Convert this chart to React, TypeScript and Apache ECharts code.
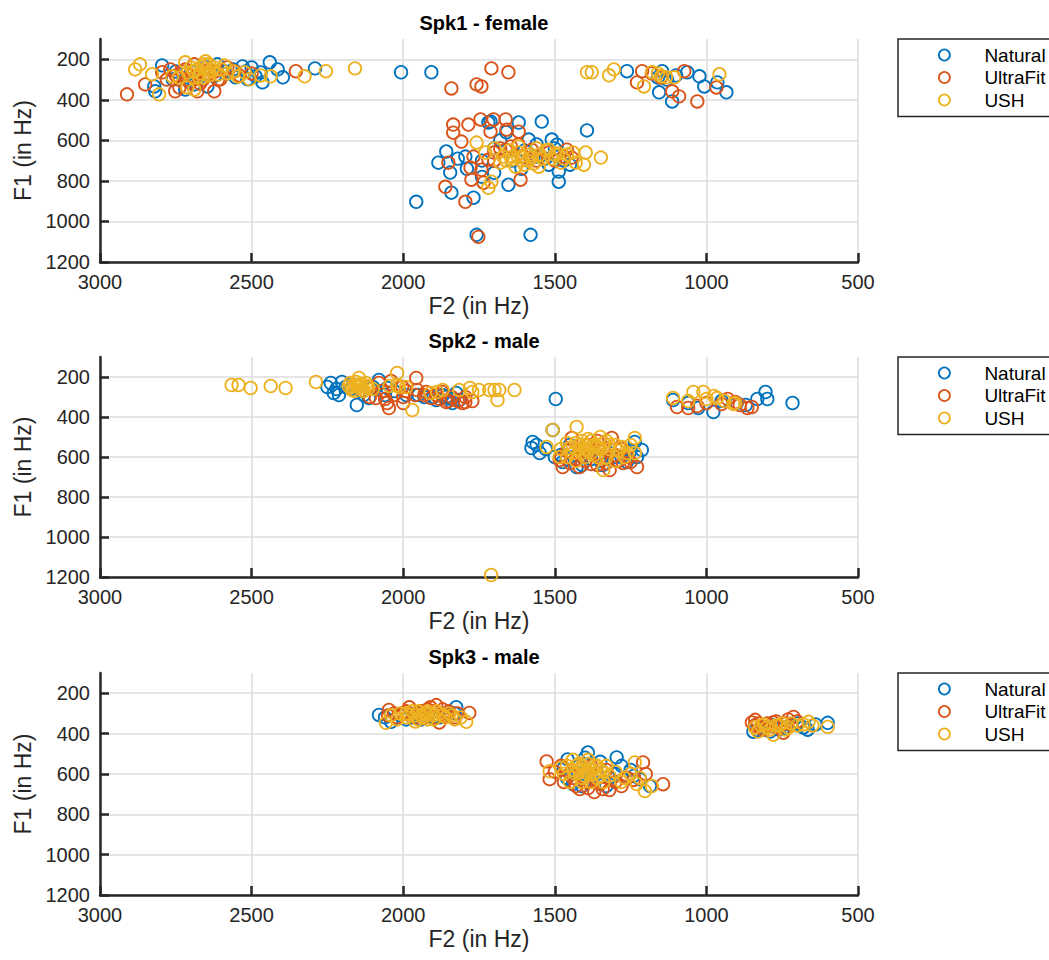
import React, { useEffect, useRef } from 'react';
import * as echarts from 'echarts';

// [F2, F1] pairs, Hz
const spk1Natural = [
  [2795, 230], [2821, 334], [2818, 358], [2719, 349], [2760, 300], [2700, 260], [2650, 240], [2613, 225],
  [2590, 259], [2553, 289], [2530, 235], [2513, 299], [2487, 284], [2440, 215], [2414, 250], [2397, 289],
  [2464, 314], [2291, 245], [2689, 324], [2646, 334], [2580, 270], [2620, 280], [2560, 250], [2007, 264],
  [1907, 264], [2750, 260], [2680, 280], [2520, 260], [2500, 240], [2470, 265],
  [1262, 259], [1146, 259], [1156, 363], [1113, 408], [1063, 264], [1023, 284], [1007, 334], [964, 314],
  [934, 363], [1130, 300], [1100, 280], [1160, 290],
  [1957, 903], [1758, 1066], [1580, 1066], [1858, 655], [1884, 710], [1845, 759], [1841, 858], [1768, 883],
  [1719, 512], [1619, 512], [1543, 507], [1394, 551], [1586, 596], [1510, 596], [1493, 621], [1487, 754],
  [1487, 804], [1653, 819], [1795, 680], [1820, 690], [1790, 740], [1740, 700], [1700, 640], [1680, 600],
  [1660, 560], [1640, 700], [1600, 650], [1560, 680], [1530, 690], [1500, 640], [1470, 700], [1450, 720],
  [1520, 720], [1700, 760], [1740, 780], [1610, 740], [1560, 620], [1712, 507],
];
const spk1UltraFit = [
  [2911, 373], [2851, 324], [2795, 264], [2738, 289], [2752, 358], [2705, 314], [2689, 225], [2646, 274],
  [2603, 299], [2556, 259], [2354, 259], [2719, 250], [2768, 250], [2738, 340], [2623, 358], [2679, 358],
  [2660, 300], [2700, 280], [2780, 300], [2620, 260], [2580, 240], [2730, 260], [2710, 300], [2690, 290],
  [2750, 280], [2670, 320], [2640, 250], [2610, 300], [2540, 280], [2500, 270],
  [1841, 344], [1758, 324], [1742, 334], [1709, 245], [1653, 264],
  [1212, 259], [1229, 314], [1113, 358], [1090, 383], [1073, 259], [1030, 408], [967, 339], [1150, 290],
  [1180, 270],
  [1835, 522], [1835, 562], [1785, 522], [1808, 606], [1745, 497], [1702, 497], [1662, 497], [1659, 547],
  [1712, 557], [1619, 557], [1851, 710], [1778, 735], [1775, 794], [1861, 829], [1613, 794], [1719, 695],
  [1742, 745], [1662, 646], [1645, 630], [1576, 646], [1460, 646], [1444, 685], [1795, 903], [1752, 1076],
  [1735, 809], [1768, 680], [1700, 660], [1600, 680], [1560, 700], [1520, 660], [1700, 700], [1680, 640],
  [1620, 620], [1580, 690], [1500, 700], [1470, 680],
];
const spk1USH = [
  [2884, 250], [2868, 225], [2805, 373], [2828, 274], [2762, 284], [2719, 215], [2689, 349], [2652, 210],
  [2650, 245], [2630, 255], [2670, 270], [2610, 275], [2690, 260], [2640, 225], [2600, 250], [2660, 290],
  [2560, 260], [2523, 264], [2507, 299], [2437, 284], [2325, 284], [2255, 259], [2159, 245], [2712, 339],
  [2740, 290], [2590, 230], [2680, 250], [2665, 235], [2645, 265], [2700, 240], [2675, 285], [2625, 240],
  [2710, 265], [2655, 225], [2640, 280], [2580, 270], [2545, 285], [2470, 280],
  [1394, 264], [1378, 264], [1321, 279], [1305, 250], [1206, 334], [1179, 264], [1149, 284], [1133, 289],
  [1106, 289], [957, 274], [1160, 270],
  [1758, 611], [1729, 660], [1699, 640], [1709, 804], [1719, 834], [1642, 695], [1609, 680], [1576, 685],
  [1553, 730], [1520, 646], [1490, 665], [1460, 670], [1431, 710], [1404, 720], [1398, 660], [1348, 685],
  [1620, 630], [1629, 730], [1670, 680], [1590, 700], [1550, 670], [1600, 720], [1650, 650], [1680, 710],
  [1510, 690], [1470, 690], [1440, 660], [1560, 640], [1640, 680], [1610, 700], [1580, 670], [1540, 690],
  [1500, 670], [1620, 660], [1660, 700], [1570, 715], [1530, 650], [1480, 710],
];

const spk2Natural = [
  [2239, 230], [2229, 280], [2212, 290], [2202, 225], [2153, 340], [2113, 305], [2080, 215], [2053, 255],
  [2060, 290], [1990, 290], [1891, 315], [1858, 300], [1825, 280], [1815, 315], [1838, 330], [2170, 260],
  [2190, 250], [2140, 270], [2100, 250], [2250, 250], [1870, 290], [1930, 300], [2220, 260], [2180, 240],
  [2130, 290], [2030, 270], [1950, 290], [1900, 300], [1840, 310],
  [1497, 310],
  [1110, 315], [1027, 355], [977, 375], [900, 330], [832, 310], [805, 275], [799, 310], [716, 330],
  [950, 320], [870, 340], [1060, 330],
  [1577, 555], [1573, 525], [1550, 580], [1474, 625], [1428, 650], [1236, 525], [1213, 565], [1229, 600],
  [1262, 625], [1342, 640], [1507, 465], [1400, 560], [1450, 540], [1320, 580], [1380, 610], [1300, 600],
  [1480, 590], [1530, 560], [1560, 540], [1500, 600], [1460, 610], [1410, 640], [1350, 620], [1280, 600],
  [1250, 570],
];
const spk2UltraFit = [
  [2080, 230], [2090, 305], [2110, 300], [2053, 330], [2047, 355], [1957, 205], [1954, 265], [2003, 250],
  [1924, 275], [1908, 305], [1871, 275], [1858, 325], [1805, 330], [1795, 325], [1795, 300], [1772, 320],
  [1960, 290], [2070, 270], [2040, 220], [2030, 290], [1990, 270], [1890, 290], [1840, 300], [2120, 250],
  [2000, 300], [1930, 290], [1880, 310], [1820, 320], [1850, 320], [2060, 310], [2000, 330],
  [1097, 350], [1060, 355], [905, 325], [865, 355], [850, 350], [1000, 330], [950, 335], [930, 310],
  [890, 340], [1030, 345],
  [1484, 615], [1450, 630], [1474, 650], [1418, 650], [1319, 665], [1275, 630], [1229, 650], [1250, 625],
  [1380, 635], [1312, 505], [1390, 540], [1444, 505], [1350, 600], [1420, 580], [1340, 560], [1300, 590],
  [1460, 570], [1280, 560], [1430, 610], [1400, 620], [1360, 640], [1330, 630], [1290, 620], [1480, 600],
  [1260, 600], [1360, 520], [1410, 560],
];
const spk2USH = [
  [2566, 240], [2543, 240], [2503, 255], [2437, 245], [2388, 255], [2288, 225], [2020, 180], [1970, 365],
  [1633, 265], [1689, 315], [1716, 265], [1699, 265], [1683, 265], [1772, 275], [1815, 265], [1888, 275],
  [2014, 250], [2146, 250], [2169, 265], [2123, 230], [2146, 205], [2160, 240], [2100, 260], [2130, 270],
  [2180, 245], [2020, 240], [2120, 245], [2155, 225], [1780, 255], [1910, 280], [2150, 240], [2170, 250],
  [2140, 235], [2135, 260], [2160, 270], [2115, 255], [2175, 230], [2045, 245], [1990, 250], [1870, 265],
  [1750, 265],
  [1110, 305], [1043, 275], [1010, 275], [965, 305], [911, 335], [905, 330], [1000, 310], [940, 320],
  [1060, 320], [975, 295],
  [1710, 1190],
  [1507, 465], [1428, 450], [1484, 600], [1527, 550], [1236, 505], [1236, 580], [1340, 665], [1400, 540],
  [1380, 520], [1360, 550], [1420, 560], [1340, 530], [1390, 570], [1450, 555], [1320, 560], [1300, 540],
  [1280, 550], [1410, 520], [1370, 590], [1330, 600], [1460, 600], [1260, 580], [1350, 500], [1300, 620],
  [1390, 510], [1370, 540], [1400, 560], [1430, 530], [1350, 560], [1380, 580], [1410, 580], [1440, 580],
  [1320, 540], [1290, 570], [1270, 600], [1360, 600], [1400, 600], [1430, 620], [1460, 530], [1480, 560],
  [1250, 540], [1330, 520], [1380, 550], [1420, 540],
];

const spk3Natural = [
  [2080, 308], [2040, 342], [1825, 269], [1900, 320], [1960, 300], [2010, 310], [1850, 300], [1940, 330],
  [2060, 320], [1990, 330], [1920, 310], [1880, 320], [1830, 300], [1970, 320],
  [1391, 494], [1296, 518], [1458, 528], [1219, 626], [1186, 660], [1460, 620], [1420, 560], [1350, 540],
  [1300, 600], [1380, 620], [1250, 580], [1330, 660], [1440, 650], [1470, 570], [1430, 590], [1400, 520],
  [1360, 600], [1280, 560], [1240, 610], [1320, 620], [1410, 660],
  [845, 391], [600, 347], [666, 381], [830, 385], [740, 370], [700, 350], [780, 360], [810, 370],
  [760, 380], [720, 360], [680, 370], [640, 355], [790, 390],
];
const spk3UltraFit = [
  [2047, 283], [1891, 259], [1782, 298], [1980, 270], [1910, 270], [1881, 345], [1940, 290], [2000, 300],
  [1850, 290], [1960, 320], [1830, 320], [2020, 320], [2030, 300], [1990, 290], [1950, 300], [1920, 280],
  [1900, 290], [1870, 280], [1860, 310], [1820, 300], [2050, 310], [1930, 320], [1890, 320],
  [1527, 538], [1517, 626], [1143, 651], [1209, 543], [1418, 675], [1342, 675], [1480, 560], [1400, 640],
  [1370, 690], [1300, 640], [1260, 620], [1450, 600], [1330, 580], [1380, 560], [1500, 590], [1470, 640],
  [1430, 660], [1390, 670], [1350, 650], [1320, 680], [1280, 660], [1240, 630], [1200, 600], [1440, 620],
  [839, 332], [713, 318], [840, 360], [746, 396], [800, 350], [770, 340], [820, 375], [760, 370],
  [850, 345], [830, 350], [810, 380], [790, 365], [780, 345], [740, 350], [730, 330], [700, 340],
];
const spk3USH = [
  [2057, 347], [1792, 342], [1810, 320], [1960, 310], [1930, 300], [1900, 310], [1950, 330], [1990, 320],
  [1920, 290], [1880, 300], [1860, 320], [2010, 300], [1970, 290], [1920, 330], [1840, 310], [2040, 310],
  [2020, 330], [1990, 300], [1950, 290], [1940, 310], [1935, 320], [1910, 300], [1890, 290], [1900, 330],
  [1870, 310], [1850, 300], [1830, 330], [1960, 340], [1980, 310], [1925, 305],
  [1517, 587], [1480, 570], [1203, 685], [1236, 543], [1180, 660], [1400, 580], [1420, 550], [1370, 560],
  [1390, 600], [1350, 580], [1430, 600], [1410, 620], [1360, 620], [1440, 530], [1320, 610], [1280, 640],
  [1250, 600], [1460, 560], [1390, 530], [1340, 640], [1470, 600], [1450, 640], [1420, 580], [1410, 560],
  [1380, 580], [1370, 600], [1360, 560], [1350, 610], [1340, 590], [1400, 610], [1430, 560], [1390, 550],
  [1330, 560], [1300, 590], [1270, 620], [1230, 650], [1220, 620], [1380, 640], [1410, 640], [1440, 580],
  [600, 367], [663, 342], [779, 406], [770, 360], [750, 350], [730, 370], [790, 380], [810, 355],
  [700, 360], [840, 370], [820, 360], [800, 370], [760, 360], [740, 380], [720, 350], [680, 355],
  [650, 360], [830, 390],
];

const titles = ['Spk1 - female', 'Spk2 - male', 'Spk3 - male'];
const seriesNames = ['Natural', 'UltraFit', 'USH'];
const colors = ['#0072BD', '#D95319', '#EDB120'];
const panels = [
  [spk1Natural, spk1UltraFit, spk1USH],
  [spk2Natural, spk2UltraFit, spk2USH],
  [spk3Natural, spk3UltraFit, spk3USH],
];

const font = '"Liberation Sans", Arial, Helvetica, sans-serif';
const ink = '#262626';
const gridTops = [39, 357, 673];
const gridHeights = [223, 220, 222];

const App: React.FC = () => {
  const chartRef = useRef<HTMLDivElement>(null);

  useEffect(() => {
    if (!chartRef.current) return;
    const chart = echarts.init(chartRef.current, null, { renderer: 'svg' });

    const option = {
      animation: false,
      backgroundColor: '#ffffff',
      title: titles.map((t, i) => ({
        text: t,
        left: 479,
        top: gridTops[i] - 31,
        textAlign: 'center',
        textStyle: { fontFamily: font, fontSize: 20, fontWeight: 'bold', color: '#000' },
      })),
      grid: gridTops.map((top, i) => ({
        left: 100,
        top,
        width: 758,
        height: gridHeights[i],
      })),
      legend: gridTops.map((top) => ({
        left: 898,
        top,
        orient: 'vertical',
        icon: 'circle',
        itemWidth: 70,
        itemHeight: 11,
        itemGap: 3.5,
        padding: [6.5, 40, 7, 40],
        borderColor: ink,
        borderWidth: 1.5,
        backgroundColor: '#fff',
        selectedMode: false,
        textStyle: { fontFamily: font, fontSize: 19, color: '#000' },
        data: seriesNames.map((n, k) => ({
          name: n,
          itemStyle: { color: 'rgba(0,0,0,0)', borderColor: colors[k], borderWidth: 1.8 },
        })),
      })),
      xAxis: gridTops.map((_, i) => ({
        gridIndex: i,
        type: 'value',
        inverse: true,
        min: 500,
        max: 3000,
        interval: 500,
        name: 'F2 (in Hz)',
        nameLocation: 'middle',
        nameGap: 32,
        nameTextStyle: { fontFamily: font, fontSize: 23, color: ink },
        axisLine: { show: true, onZero: false, lineStyle: { color: ink, width: 2.5 } },
        axisTick: { show: true, inside: true, length: 9, lineStyle: { color: ink, width: 2.5 } },
        axisLabel: {
          margin: 10,
          fontFamily: font,
          fontSize: 20,
          color: ink,
          formatter: (v: number) => String(v),
        },
        splitLine: { show: true, lineStyle: { color: '#dcdcdc', width: 1.5 } },
      })),
      yAxis: gridTops.map((_, i) => ({
        gridIndex: i,
        type: 'value',
        inverse: true,
        min: 100,
        max: 1200,
        splitNumber: 5,
        name: 'F1 (in Hz)',
        nameLocation: 'middle',
        nameGap: 66,
        nameTextStyle: { fontFamily: font, fontSize: 23, color: ink },
        axisLine: { show: true, onZero: false, lineStyle: { color: ink, width: 2.5 } },
        axisTick: { show: true, inside: true, length: 9, lineStyle: { color: ink, width: 2.5 } },
        axisLabel: {
          margin: 10,
          fontFamily: font,
          fontSize: 20,
          color: ink,
          showMinLabel: false,
          formatter: (v: number) => String(v),
        },
        splitLine: { show: true, showMinLine: false, lineStyle: { color: '#dcdcdc', width: 1.5 } },
      })),
      series: panels.flatMap((sets, i) =>
        sets.map((data, k) => ({
          name: seriesNames[k],
          type: 'scatter',
          xAxisIndex: i,
          yAxisIndex: i,
          data,
          symbol: 'circle',
          symbolSize: 12.5,
          itemStyle: { color: 'rgba(0,0,0,0)', borderColor: colors[k], borderWidth: 1.8, opacity: 1 },
          emphasis: { disabled: true },
        }))
      ),
    };

    chart.setOption(option);
    return () => {
      chart.dispose();
    };
  }, []);

  return (
    <div
      ref={chartRef}
      style={{ position: 'absolute', left: 0, top: 0, width: '1049px', height: '960px' }}
    />
  );
};

export default App;
